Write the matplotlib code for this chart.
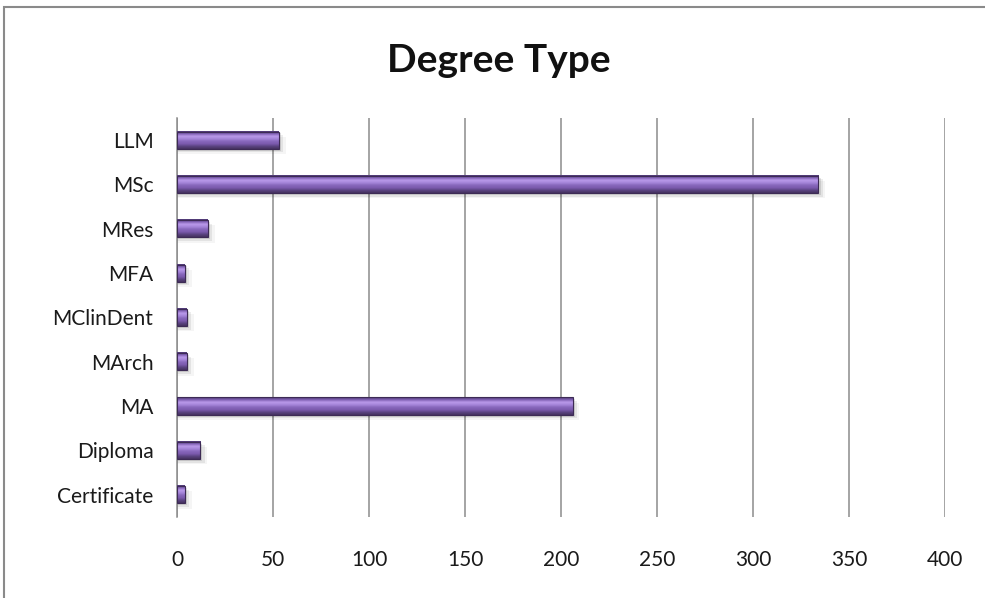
import matplotlib
matplotlib.use("Agg")
import matplotlib.pyplot as plt
import numpy as np
from matplotlib.colors import LinearSegmentedColormap
from matplotlib.patches import Rectangle

plt.rcParams['font.family'] = ['Lato', 'DejaVu Sans']

categories = ['Certificate', 'Diploma', 'MA', 'MArch', 'MClinDent',
              'MFA', 'MRes', 'MSc', 'LLM']
counts = [4, 12, 206, 5, 5, 4, 16, 334, 53]
xticks = [0, 50, 100, 150, 200, 250, 300, 350, 400]

# shading across the bar thickness: dark bottom, light band near the top
bar_cmap = LinearSegmentedColormap.from_list(
    'bevel', ['#45325f', '#5a4380', '#7b5aad', '#8767bb', '#a585d9',
              '#ba9aea', '#8060b3', '#4b3670'])

fig = plt.figure(figsize=(9.85, 5.98), dpi=100)
ax = fig.add_axes([0.1797, 0.1355, 0.7797, 0.6672])

bar_h = 0.39
grad = np.linspace(0, 1, 64).reshape(-1, 1)
for i, v in enumerate(counts):
    y0 = i - bar_h / 2
    # soft drop shadow
    for k, a in enumerate([0.10, 0.07, 0.04]):
        d = 0.04 * (k + 1)
        ax.add_patch(Rectangle((0, y0 - d), v + 1.2 * (k + 1), bar_h,
                               color='#000000', alpha=a, lw=0, zorder=2))
    ax.imshow(grad, cmap=bar_cmap, aspect='auto', origin='lower',
              extent=(0, v, y0, y0 + bar_h), zorder=3, interpolation='bilinear')
    ax.add_patch(Rectangle((0, y0), v, bar_h, fill=False,
                           ec='#3d2b55', lw=0.8, zorder=4))

ax.set_xlim(0, 400)
ax.set_ylim(-0.5, len(categories) - 0.5)
ax.set_xticks(xticks)
ax.set_xticklabels([str(t) for t in xticks], fontsize=15, color='#1a1a1a')
ax.set_yticks(range(len(categories)))
ax.set_yticklabels(categories, fontsize=15, color='#1a1a1a')
ax.tick_params(length=0)
ax.tick_params(axis='y', pad=17)
ax.tick_params(axis='x', pad=24)
ax.grid(axis='x', color='#8c8c8c', lw=1.1, zorder=1)
ax.set_axisbelow(True)
for s in ['top', 'right', 'bottom']:
    ax.spines[s].set_visible(False)
ax.spines['left'].set_color('#8c8c8c')
ax.spines['left'].set_linewidth(1.1)

fig.text(0.506, 0.898, 'Degree Type', ha='center', va='center',
         fontsize=28, fontweight='bold', color='#111111')

# outer chart frame
fig.add_artist(Rectangle((0.004, -0.05), 1.1, 1.038, transform=fig.transFigure,
                         fill=False, ec='#8a8a8a', lw=1.5))

fig.savefig('out.png', dpi=100)
